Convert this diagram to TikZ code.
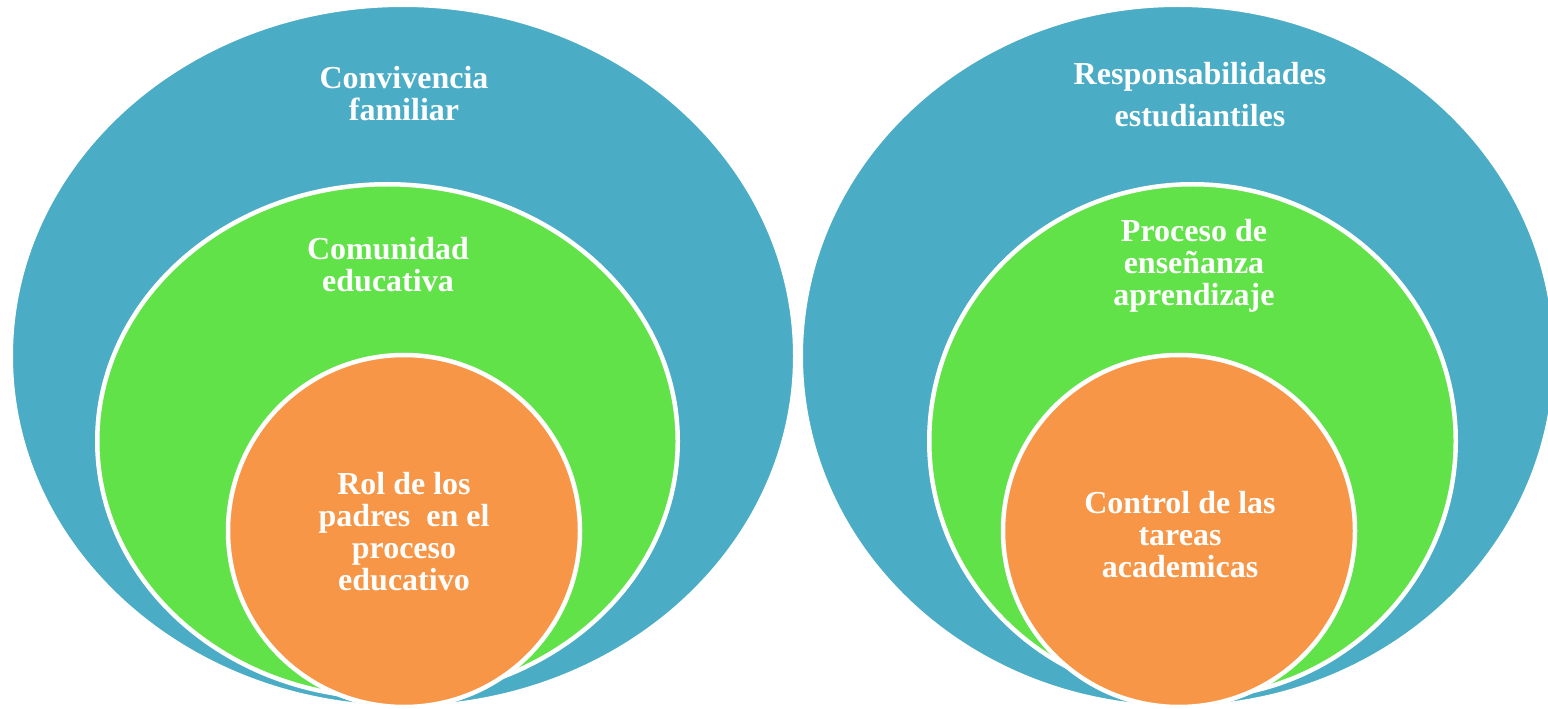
\documentclass[tikz,border=0pt]{standalone}
\usepackage{fontspec}
\setmainfont{Liberation Serif}
\usepackage{tikz}
\usetikzlibrary{shapes.geometric}

\definecolor{blueset}{RGB}{75,172,198}
\definecolor{greenset}{RGB}{98,226,73}
\definecolor{orangeset}{RGB}{247,150,70}

\begin{document}
\begin{tikzpicture}[x=0.5pt,y=0.5pt,
	ring/.style={ellipse,draw=white,line width=2.25pt,inner sep=0pt},
	lbl/.style={text=white,font=\bfseries\fontsize{16}{16}\selectfont,align=center}]
	\useasboundingbox (0,0) rectangle (1548,708);
	\clip (0,0) rectangle (1548,708);
	\node [ring,fill=blueset,minimum width=392.25pt,minimum height=351.25pt] (b1) at (403,352) {};
	\node [ring,fill=greenset,minimum width=290.25pt,minimum height=256.75pt] (g1) at (387.5,267) {};
	\node [ring,fill=orangeset,minimum width=176pt,minimum height=176pt] (o1) at (404,177) {};
	\node [ring,fill=blueset,minimum width=377.25pt,minimum height=351.25pt] (b2) at (1178,352) {};
	\node [ring,fill=greenset,minimum width=263.25pt,minimum height=256.75pt] (g2) at (1192.5,267) {};
	\node [ring,fill=orangeset,minimum width=176pt,minimum height=176pt] (o2) at (1179,177) {};
	\node [lbl] (conv) at (404,614) {Convivencia\\familiar};
	\node [lbl] (comu) at (388,443) {Comunidad\\educativa};
	\node [lbl] (rol) at (404,176) {Rol de los\\padres\ \ en el\\proceso\\educativo};
	\node [lbl] (resp) at (1200,613) {Responsabilidades\\[5pt]estudiantiles};
	\node [lbl] (proc) at (1194,442) {Proceso de\\enseñanza\\aprendizaje};
	\node [lbl] (ctrl) at (1180,173) {Control de las\\tareas\\academicas};
\end{tikzpicture}
\end{document}
